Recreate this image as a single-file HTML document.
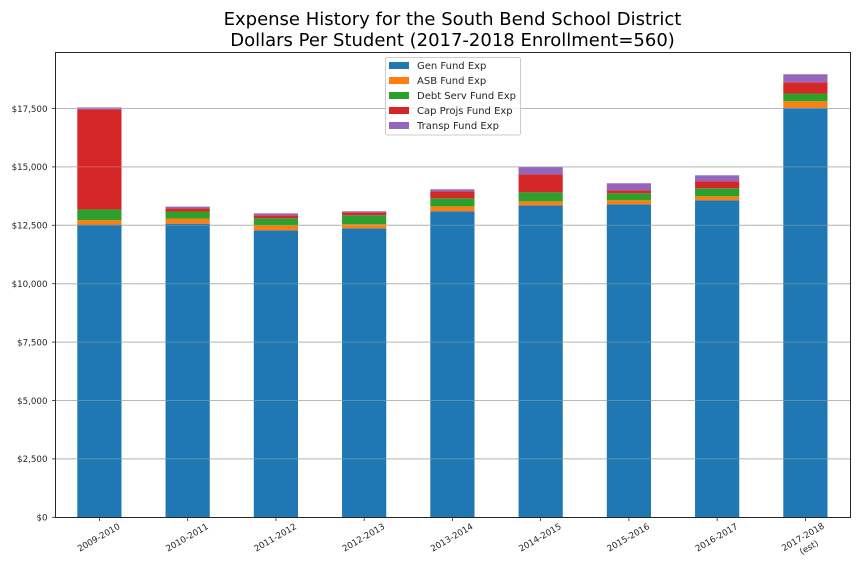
<!DOCTYPE html>
<html>
<head>
<meta charset="utf-8">
<title>Expense History</title>
<style>
html,body{margin:0;padding:0;background:#fff;}
svg{display:block;font-family:"DejaVu Sans","Liberation Sans",sans-serif;}
</style>
</head>
<body>
<svg id="chart" xmlns="http://www.w3.org/2000/svg" width="864" height="576" viewBox="0 0 864 576">
  <rect width="864" height="576" fill="#ffffff"/>
  <text x="452.5" y="25" font-size="18" text-anchor="middle" fill="#000">Expense History for the South Bend School District</text>
  <text x="452.5" y="46" font-size="18" text-anchor="middle" fill="#000">Dollars Per Student (2017-2018 Enrollment=560)</text>
  <g id="grid"></g>
  <g id="bars"></g>
  <g id="gridOver"></g>
  <g id="ticks"></g>
  <rect x="55.5" y="52.5" width="795" height="465" fill="none" stroke="#262626" stroke-width="1"/>
  <g id="legend"></g>
</svg>
<script>
const categories = ['2009-2010','2010-2011','2011-2012','2012-2013','2013-2014','2014-2015','2015-2016','2016-2017','2017-2018'];
const seriesNames = ['Gen Fund Exp','ASB Fund Exp','Debt Serv Fund Exp','Cap Projs Fund Exp','Transp Fund Exp'];
const genFund = [12530,12570,12285,12370,13100,13355,13400,13570,17535];
const asbFund = [190,220,205,170,210,170,170,170,275];
const debtFund = [460,300,310,390,345,385,300,345,330];
const capFund = [4280,140,130,125,300,770,130,295,480];
const transpFund = [85,70,80,45,85,315,300,260,345];
const yTicks = [0,2500,5000,7500,10000,12500,15000,17500];
const colors = ['#1f77b4','#ff7f0e','#2ca02c','#d62728','#9467bd'];
const allSeries = [genFund,asbFund,debtFund,capFund,transpFund];

const NS = 'http://www.w3.org/2000/svg';
const xScale = i => 99.4 + 88.25 * i;
const yScale = v => 517.3 - v * 0.02336;
const barWidth = 44.2;
const slug = s => s.toLowerCase().replace(/[^a-z0-9]+/g, '-');
function mk(tag, attrs, parent) {
  const el = document.createElementNS(NS, tag);
  for (const k in attrs) el.setAttribute(k, attrs[k]);
  parent.appendChild(el);
  return el;
}
const barsG = document.getElementById('bars');
const gridG = document.getElementById('grid');
const gridOverG = document.getElementById('gridOver');
const ticksG = document.getElementById('ticks');
const legendG = document.getElementById('legend');

categories.forEach((cat, i) => {
  let acc = 0;
  allSeries.forEach((arr, s) => {
    const top = yScale(acc + arr[i]);
    const bottom = yScale(acc);
    const r = mk('rect', {x: xScale(i) - barWidth / 2, y: top, width: barWidth, height: bottom - top, fill: colors[s]}, barsG);
    
    
    acc += arr[i];
  });
  const tick = mk('line', {x1: xScale(i), x2: xScale(i), y1: 517.5, y2: 521, stroke: '#262626', 'stroke-width': 0.8}, ticksG);
  
  
  const last = i === categories.length - 1;
  const lx = xScale(i) + (last ? -1 : 0.8);
  const ly = last ? 539.5 : 540;
  const label = mk('text', {x: lx, y: ly, 'font-size': 8.7, 'text-anchor': 'middle', fill: '#262626', transform: 'rotate(-30 ' + lx + ' ' + ly + ')'}, ticksG);
  
  
  label.textContent = cat;
  if (last) {
    const est = mk('tspan', {x: lx, dy: 12}, label);
    
    
    est.textContent = '(est)';
  }
});

yTicks.forEach(v => {
  const y = yScale(v);
  if (v > 0) {
    const g = mk('line', {x1: 55.5, x2: 850.5, y1: y, y2: y, stroke: '#b8b8b8', 'stroke-width': 1}, gridG);
    
    
    const o = mk('line', {x1: 55.5, x2: 850.5, y1: y, y2: y, stroke: '#b8b8b8', 'stroke-width': 1, 'stroke-opacity': 0.4}, gridOverG);
    
    
  }
  const t = mk('line', {x1: 52, x2: 55.5, y1: y, y2: y, stroke: '#262626', 'stroke-width': 0.8}, ticksG);
  
  
  const l = mk('text', {x: 47.5, y: y + 3.3, 'font-size': 8.7, 'text-anchor': 'end', fill: '#262626'}, ticksG);
  
  
  l.textContent = '$' + v.toLocaleString('en-US');
});

const legendBox = mk('rect', {x: 385.5, y: 57.5, width: 135, height: 77.5, rx: 2, ry: 2, fill: '#ffffff', 'fill-opacity': 0.8, stroke: '#cccccc', 'stroke-width': 1}, legendG);


seriesNames.forEach((name, s) => {
  const cy = 65.5 + 15 * s;
  const sw = mk('rect', {x: 389, y: cy - 3.5, width: 20, height: 7, fill: colors[s]}, legendG);
  
  
  const t = mk('text', {x: 417, y: cy + 3.5, 'font-size': 10, fill: '#262626'}, legendG);
  
  
  t.textContent = name;
});
</script>
</body>
</html>
